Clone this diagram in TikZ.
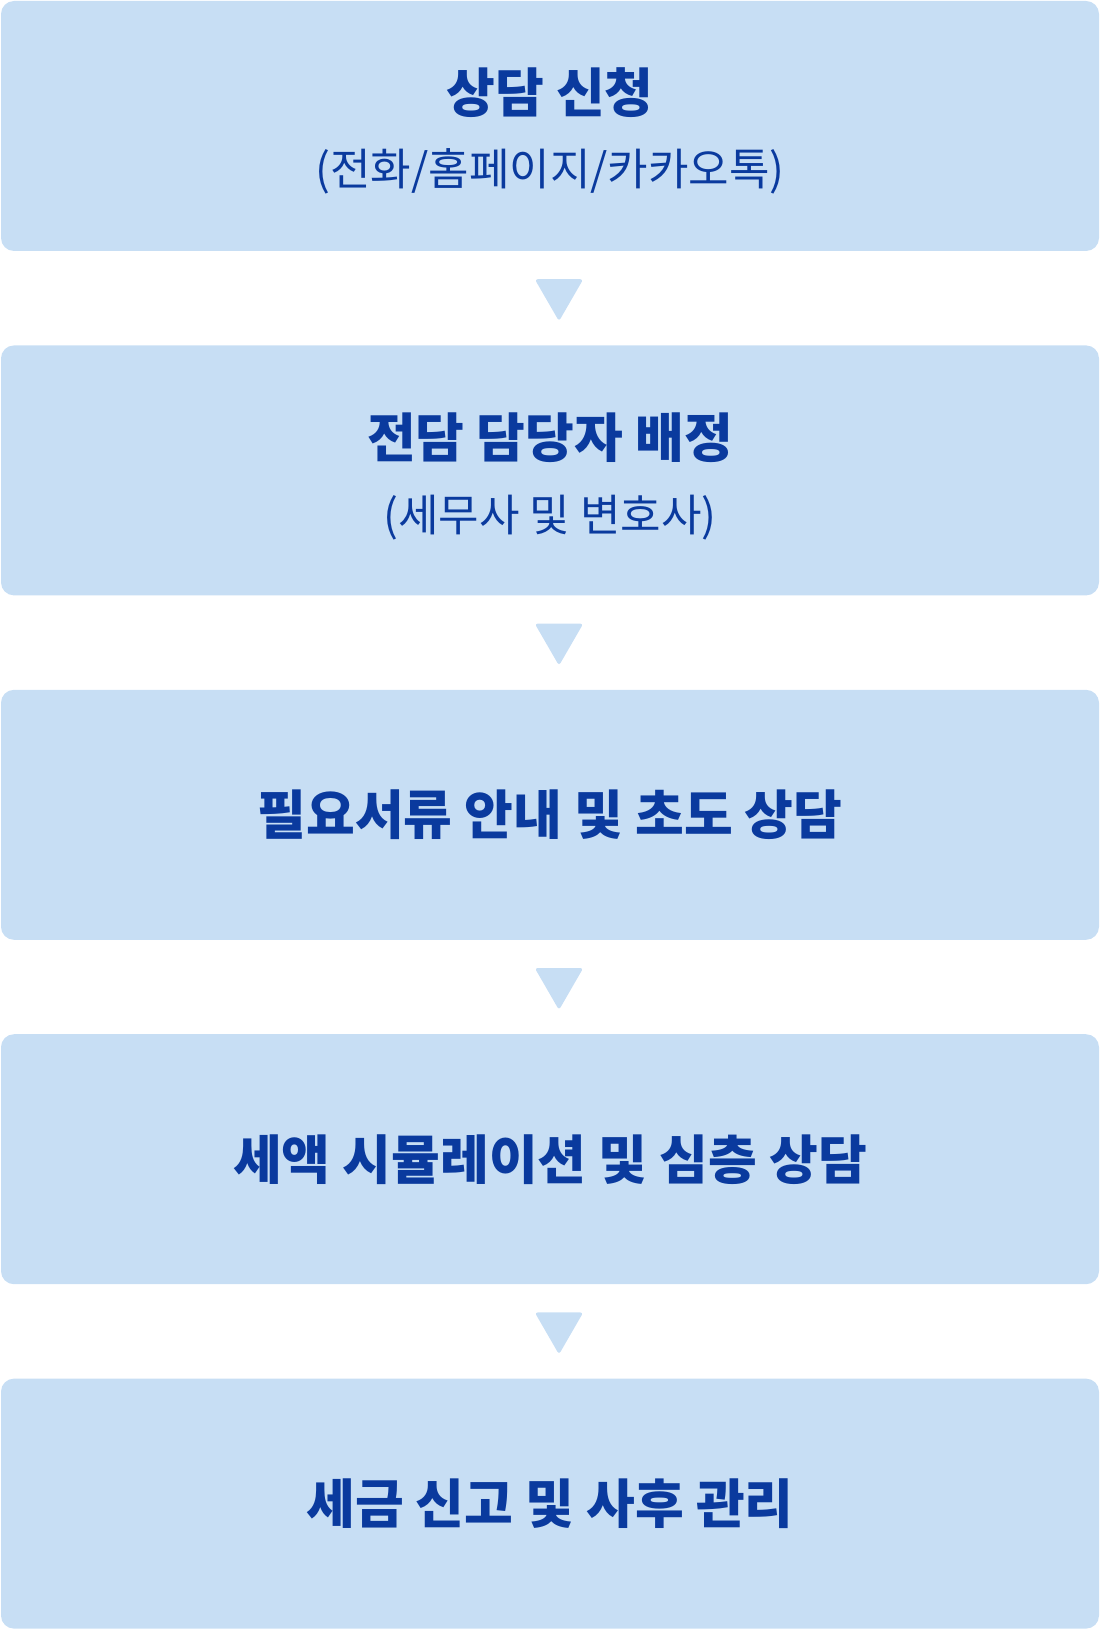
\documentclass[tikz,border=0pt]{standalone}
\usepackage{fontspec}
\newfontfamily\krfont{Noto Sans CJK KR}
\usetikzlibrary{positioning, calc, shapes.geometric}
\definecolor{stepfill}{RGB}{199,222,244}
\definecolor{steptext}{RGB}{10,58,158}

\begin{document}
\begin{tikzpicture}[
    x=1pt, y=1pt,
    node distance=94pt,
    stepbox/.style={
        fill=stepfill,
        rounded corners=13pt,
        minimum width=1098pt,
        minimum height=250pt,
        inner sep=0pt
    },
    title/.style={
        text=steptext,
        font=\krfont\bfseries\fontsize{53}{60}\selectfont
    },
    sub/.style={
        text=steptext,
        font=\krfont\fontsize{44}{50}\selectfont
    },
    tri/.style={
        regular polygon,
        regular polygon sides=3,
        shape border rotate=180,
        fill=stepfill,
        rounded corners=3pt,
        minimum size=56pt,
        inner sep=0pt
    }
]
\useasboundingbox (0,0) rectangle (1100,-1629);

% Boxes
\node (s1) [stepbox] at (550,-126) {};
\node (s2) [stepbox, below=of s1] {};
\node (s3) [stepbox, below=of s2] {};
\node (s4) [stepbox, below=of s3] {};
\node (s5) [stepbox, below=of s4] {};

% Texts
\node (t1) [title] at ($(s1.center)+(0,33)$) {상담 신청};
\node (u1) [sub] at ($(s1.center)+(0,-45)$) {(전화/홈페이지/카카오톡)};
\node (t2) [title] at ($(s2.center)+(0,33)$) {전담 담당자 배정};
\node (u2) [sub] at ($(s2.center)+(0,-47)$) {(세무사 및 변호사)};
\node (t3) [title] at (s3.center) {필요서류 안내 및 초도 상담};
\node (t4) [title] at (s4.center) {세액 시뮬레이션 및 심층 상담};
\node (t5) [title] at (s5.center) {세금 신고 및 사후 관리};

% Arrows
\foreach \a/\b in {s1/s2, s2/s3, s3/s4, s4/s5}
    \node [tri] at ($(\a.south)!0.5!(\b.north)+(9,5)$) {};

\end{tikzpicture}
\end{document}
